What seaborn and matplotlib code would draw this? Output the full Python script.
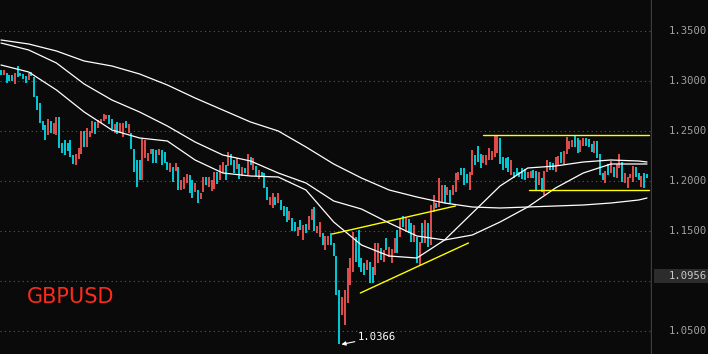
import numpy as np
import pandas as pd
import matplotlib
matplotlib.use("Agg")
import matplotlib.pyplot as plt
from matplotlib.patches import Rectangle
import seaborn as sns

# ---------------- data ----------------
symbol = "GBPUSD"

opens = [
    1.311, 1.306, 1.308, 1.306, 1.306, 1.297, 1.315, 1.308, 1.307, 1.305,
    1.301, 1.309, 1.304, 1.285, 1.278, 1.260, 1.256, 1.246, 1.260, 1.247,
    1.246, 1.264, 1.238, 1.241, 1.238, 1.241, 1.226, 1.216, 1.222, 1.227,
    1.250, 1.234, 1.244, 1.248, 1.259, 1.253, 1.258, 1.260, 1.262, 1.266,
    1.262, 1.248, 1.259, 1.248, 1.244, 1.260, 1.248, 1.248, 1.232, 1.221,
    1.221, 1.201, 1.223, 1.220, 1.227, 1.232, 1.231, 1.226, 1.231, 1.229,
    1.219, 1.209, 1.214, 1.210, 1.214, 1.191, 1.192, 1.198, 1.206, 1.201,
    1.189, 1.191, 1.182, 1.189, 1.204, 1.194, 1.190, 1.192, 1.209, 1.201,
    1.208, 1.216, 1.215, 1.227, 1.221, 1.212, 1.217, 1.205, 1.213, 1.206,
    1.224, 1.211, 1.215, 1.202, 1.209, 1.208, 1.194, 1.176, 1.173, 1.184,
    1.178, 1.181, 1.175, 1.174, 1.161, 1.163, 1.159, 1.145, 1.161, 1.141,
    1.157, 1.151, 1.161, 1.174, 1.148, 1.144, 1.148, 1.131, 1.136, 1.148,
    1.138, 1.125, 1.091, 1.066, 1.056, 1.078, 1.096, 1.109, 1.144, 1.151,
    1.123, 1.118, 1.111, 1.119, 1.114, 1.106, 1.118, 1.133, 1.119, 1.143,
    1.124, 1.118, 1.128, 1.151, 1.144, 1.165, 1.149, 1.162, 1.158, 1.139,
    1.144, 1.116, 1.158, 1.138, 1.158, 1.136, 1.169, 1.178, 1.174, 1.179,
    1.196, 1.186, 1.191, 1.186, 1.189, 1.201, 1.213, 1.213, 1.207, 1.191,
    1.206, 1.226, 1.235, 1.227, 1.218, 1.216, 1.221, 1.221, 1.224, 1.228,
    1.243, 1.224, 1.223, 1.224, 1.206, 1.209, 1.213, 1.209, 1.213, 1.212,
    1.203, 1.203, 1.211, 1.210, 1.196, 1.203, 1.186, 1.209, 1.219, 1.218,
    1.209, 1.216, 1.229, 1.217, 1.227, 1.232, 1.234, 1.245, 1.243, 1.229,
    1.235, 1.243, 1.242, 1.237, 1.228, 1.240, 1.227, 1.208, 1.198, 1.217,
    1.208, 1.214, 1.203, 1.213, 1.219, 1.198, 1.193, 1.203, 1.199, 1.214,
    1.208, 1.194, 1.208, 1.207,
]

closes = [
    1.306, 1.311, 1.298, 1.300, 1.300, 1.308, 1.304, 1.305, 1.302, 1.298,
    1.308, 1.305, 1.284, 1.271, 1.258, 1.251, 1.241, 1.262, 1.248, 1.258,
    1.264, 1.233, 1.228, 1.226, 1.230, 1.224, 1.217, 1.227, 1.233, 1.250,
    1.234, 1.253, 1.250, 1.260, 1.247, 1.261, 1.262, 1.267, 1.266, 1.257,
    1.252, 1.257, 1.247, 1.258, 1.258, 1.253, 1.257, 1.232, 1.209, 1.194,
    1.201, 1.242, 1.241, 1.228, 1.232, 1.218, 1.218, 1.232, 1.216, 1.218,
    1.211, 1.218, 1.199, 1.218, 1.191, 1.201, 1.204, 1.207, 1.188, 1.183,
    1.198, 1.178, 1.188, 1.204, 1.196, 1.204, 1.201, 1.209, 1.197, 1.216,
    1.219, 1.201, 1.229, 1.216, 1.208, 1.223, 1.202, 1.214, 1.208, 1.227,
    1.216, 1.223, 1.205, 1.211, 1.204, 1.193, 1.181, 1.184, 1.188, 1.176,
    1.188, 1.171, 1.165, 1.159, 1.170, 1.150, 1.150, 1.154, 1.151, 1.156,
    1.148, 1.165, 1.172, 1.150, 1.155, 1.159, 1.136, 1.145, 1.145, 1.136,
    1.125, 1.086, 1.0366, 1.084, 1.091, 1.113, 1.123, 1.149, 1.119, 1.114,
    1.109, 1.106, 1.121, 1.098, 1.098, 1.138, 1.138, 1.121, 1.131, 1.131,
    1.134, 1.132, 1.143, 1.128, 1.163, 1.154, 1.163, 1.148, 1.139, 1.156,
    1.118, 1.139, 1.138, 1.161, 1.134, 1.176, 1.186, 1.173, 1.203, 1.196,
    1.178, 1.194, 1.178, 1.196, 1.208, 1.209, 1.206, 1.196, 1.198, 1.209,
    1.231, 1.216, 1.219, 1.213, 1.226, 1.226, 1.233, 1.230, 1.245, 1.245,
    1.217, 1.211, 1.213, 1.209, 1.221, 1.203, 1.206, 1.204, 1.202, 1.201,
    1.209, 1.210, 1.203, 1.191, 1.209, 1.189, 1.210, 1.221, 1.211, 1.211,
    1.224, 1.225, 1.218, 1.230, 1.244, 1.240, 1.241, 1.234, 1.228, 1.241,
    1.243, 1.235, 1.234, 1.229, 1.240, 1.223, 1.206, 1.201, 1.210, 1.206,
    1.220, 1.204, 1.217, 1.227, 1.199, 1.208, 1.204, 1.207, 1.215, 1.204,
    1.201, 1.205, 1.193, 1.203,
]

# moving-average lines, sampled along the bar index
ma_idx = [0, 10, 20, 30, 40, 50, 60, 70, 80, 90, 100, 110, 120,
          130, 140, 150, 160, 170, 180, 190, 200, 210, 220, 230, 233]
ma_slow = [1.341, 1.337, 1.330, 1.320, 1.315, 1.307, 1.296, 1.283, 1.271, 1.259,
           1.250, 1.234, 1.217, 1.203, 1.191, 1.184, 1.178, 1.174, 1.173, 1.174,
           1.175, 1.176, 1.178, 1.181, 1.183]
ma_mid = [1.338, 1.331, 1.318, 1.297, 1.281, 1.269, 1.255, 1.239, 1.226, 1.220,
          1.208, 1.198, 1.180, 1.172, 1.158, 1.145, 1.141, 1.146, 1.159, 1.174,
          1.193, 1.208, 1.217, 1.217, 1.217]
ma_fast = [1.316, 1.309, 1.291, 1.269, 1.251, 1.243, 1.240, 1.221, 1.208, 1.205,
           1.204, 1.191, 1.159, 1.136, 1.125, 1.123, 1.141, 1.168, 1.195, 1.213,
           1.215, 1.219, 1.221, 1.220, 1.219]

# yellow trend / range lines: (start index, end index), (start price, end price)
trend_upper_idx = [119.5, 163.9]
trend_upper_val = [1.147, 1.175]
trend_lower_idx = [129.6, 168.6]
trend_lower_val = [1.088, 1.138]
range_top_idx = [174.0, 233.6]
range_top_val = [1.246, 1.246]
range_bot_idx = [190.3, 233.6]
range_bot_val = [1.191, 1.191]

low_index = 122
low_price = 1.0366
low_label = "1.0366"

last_price = 1.105
last_label = "1.0956"

grid_levels = [1.05, 1.10, 1.15, 1.20, 1.25, 1.30, 1.35]
tick_levels = [1.05, 1.15, 1.20, 1.25, 1.30, 1.35]
tick_labels = ["1.0500", "1.1500", "1.2000", "1.2500", "1.3000", "1.3500"]

# ---------------- style ----------------
sns.set_theme(style="dark")
plt.rcParams["font.family"] = ["DejaVu Sans"]

BG = "#0a0a0a"
UP = "#ff5656"
DOWN = "#00e3f0"

W, H = 708, 354
fig = plt.figure(figsize=(W / 100, H / 100), dpi=100, facecolor=BG)
ax = fig.add_axes([0, 0, 652 / W, 1])
ax.set_facecolor(BG)

n = len(opens)
idx = np.arange(n)
o = np.array(opens)
c = np.array(closes)
lo = np.minimum(o, c)
hi = np.maximum(o, c)
cols = [UP if cc >= oo else DOWN for oo, cc in zip(o, c)]

# grid
for g in grid_levels:
    ax.axhline(g, color="#5a5a5a", lw=0.8, ls=(0, (1, 3)), zorder=0)

# candle bars
ax.vlines(idx, lo, hi, colors=cols, linewidth=1.25, zorder=3)

# moving averages
ma_df = pd.DataFrame({
    "idx": ma_idx * 3,
    "val": ma_slow + ma_mid + ma_fast,
    "ma": ["slow"] * len(ma_idx) + ["mid"] * len(ma_idx) + ["fast"] * len(ma_idx),
})
sns.lineplot(data=ma_df, x="idx", y="val", units="ma", estimator=None,
             color="white", linewidth=0.9, ax=ax, zorder=4, legend=False)

# yellow lines
for xs, ys in [(trend_upper_idx, trend_upper_val), (trend_lower_idx, trend_lower_val),
               (range_top_idx, range_top_val), (range_bot_idx, range_bot_val)]:
    ax.plot(xs, ys, color="#ffff00", lw=1.0, zorder=5)

px = 646 / (n - 1)  # pixels per bar
ax.set_xlim(-1 / px, (652 - 1) / px)
ax.set_ylim(1.027, 1.381)
ax.set_xticks([])
ax.set_yticks([])
ax.set_xlabel("")
ax.set_ylabel("")
for s in ax.spines.values():
    s.set_visible(False)

# right axis separator
ax.axvline((651.5 - 1) / px, color="#3c3c3c", lw=1.0, zorder=6)

# price labels
ytr = ax.get_yaxis_transform()
for lv, lb in zip(tick_levels, tick_labels):
    ax.text(669 / 652, lv, lb, transform=ytr, color="#a0a0a0", fontsize=7.6,
            family="DejaVu Sans Mono", va="center", ha="left", clip_on=False)

# last price box
box = Rectangle((654 / W, 1 - 283 / H), 54 / W, 14 / H,
                transform=fig.transFigure, facecolor="#2c2c2c",
                edgecolor="none", zorder=10, clip_on=False)
ax.add_patch(box)
ax.text(669 / 652, last_price, last_label, transform=ytr, color="#c8c8c8",
        fontsize=7.6, family="DejaVu Sans Mono", va="center", ha="left",
        clip_on=False, zorder=11)

# low annotation
ax.annotate(low_label, xy=(low_index + 0.8, low_price),
            xytext=(low_index + 6.8, low_price + 0.0073),
            color="white", fontsize=7.6, family="DejaVu Sans Mono",
            va="center", ha="left", zorder=8,
            arrowprops=dict(arrowstyle="-|>", color="white", lw=0.8,
                            mutation_scale=6, shrinkA=0, shrinkB=0))

# symbol
ax.text(27 / 652, 1 - 297 / H, symbol, transform=ax.transAxes, color="#ff2a1a",
        fontsize=15, va="center", ha="left", zorder=8)

fig.savefig("out.png", dpi=100, facecolor=BG)
